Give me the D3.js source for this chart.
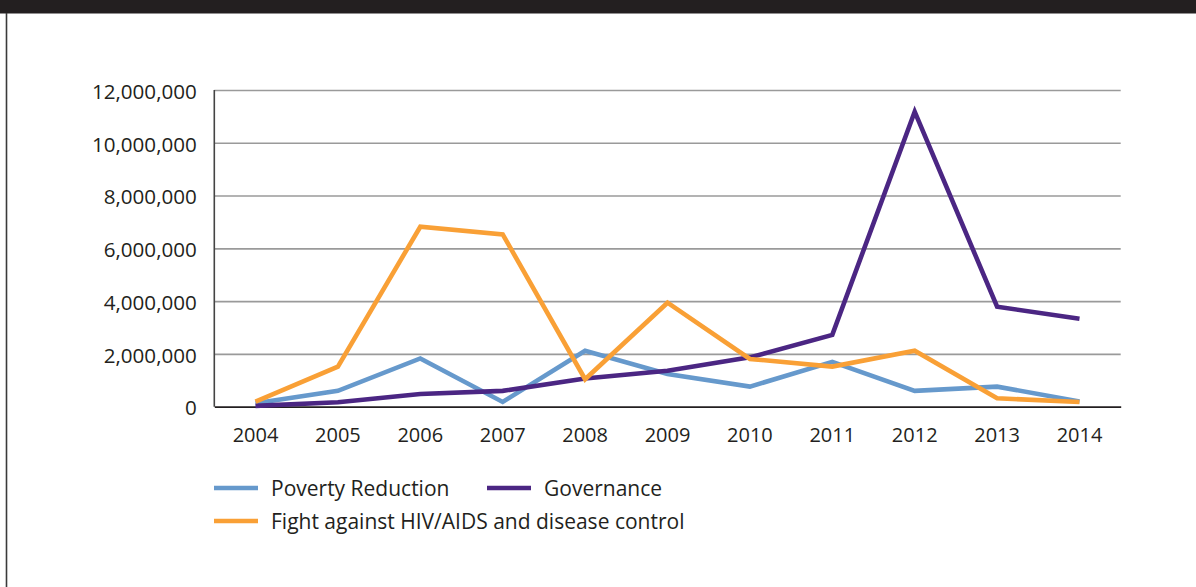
<!DOCTYPE html>
<html>
<head>
<meta charset="utf-8">
<script src="https://cdn.jsdelivr.net/npm/d3@7"></script>
<style>
  html, body { margin: 0; padding: 0; background: #fff; }
  svg { display: block; font-family: "Open Sans", "Noto Sans", sans-serif; }
</style>
</head>
<body>
<svg id="chart" width="1196" height="587"></svg>
<script>
const years = ["2004","2005","2006","2007","2008","2009","2010","2011","2012","2013","2014"];
const povertyReduction = [130000, 600000, 1830000, 180000, 2120000, 1240000, 760000, 1700000, 600000, 760000, 200000];
const governance = [30000, 170000, 480000, 600000, 1070000, 1360000, 1870000, 2720000, 11180000, 3790000, 3330000];
const hivAids = [190000, 1520000, 6820000, 6530000, 1040000, 3940000, 1810000, 1520000, 2120000, 320000, 180000];
const yTicks = [0, 2000000, 4000000, 6000000, 8000000, 10000000, 12000000];

const seriesNames = ["Poverty Reduction", "Governance", "Fight against HIV/AIDS and disease control"];
const seriesColors = ["#6699cc", "#4b2683", "#f9a036"];
const seriesValues = [povertyReduction, governance, hivAids];

const svg = d3.select("#chart");
const W = 1196, H = 587;

// frame: top dark bar and left border
svg.append("rect").attr("x", 0).attr("y", 0).attr("width", W).attr("height", 13.5).attr("fill", "#231f20");
svg.append("line").attr("x1", 6.5).attr("x2", 6.5).attr("y1", 13).attr("y2", H)
  .attr("stroke", "#3a3a3a").attr("stroke-width", 1.6);

const pLeft = 214.3, pRight = 1120.7, pTop = 90, pBottom = 406.7;

const x = d3.scaleBand().domain(years).range([pLeft, pRight]).padding(0);
const y = d3.scaleLinear().domain([0, 12000000]).range([pBottom, pTop]);
const fmt = d3.format(",");

// gridlines
const yAxis = d3.axisLeft(y).tickValues(yTicks).tickFormat(d => fmt(d)).tickSize(-(pRight - pLeft)).tickPadding(17.5);
const gy = svg.append("g").attr("transform", `translate(${pLeft},0)`).call(yAxis);
gy.select(".domain").remove();
gy.selectAll(".tick line").attr("stroke", "#9a9a9a").attr("stroke-width", 1.6);
gy.selectAll(".tick text").attr("font-size", 20.6).attr("fill", "#231f20").attr("dy", "0.4em")
  .attr("font-family", '"Open Sans", sans-serif');
gy.selectAll(".tick").filter(d => d === 0).select("line").remove();

// vertical axis line
svg.append("line").attr("x1", pLeft).attr("x2", pLeft).attr("y1", pTop).attr("y2", pBottom)
  .attr("stroke", "#444").attr("stroke-width", 1.6);

// x axis
const xAxis = d3.axisBottom(x).tickSize(0).tickPadding(0);
const gx = svg.append("g").attr("transform", `translate(0,${pBottom})`).call(xAxis);
gx.select(".domain").attr("stroke", "#231f20").attr("stroke-width", 1.8);
gx.selectAll(".tick text").attr("font-size", 20).attr("fill", "#231f20")
  .attr("y", 35).attr("dy", 0).attr("font-family", '"Open Sans", sans-serif');

// lines
const line = d3.line().x((d, i) => x(years[i]) + x.bandwidth() / 2).y(d => y(d));
seriesValues.forEach((vals, k) => {
  svg.append("path").datum(vals).attr("d", line)
    .attr("fill", "none").attr("stroke", seriesColors[k]).attr("stroke-width", 4.6)
    .attr("stroke-linejoin", "miter").attr("stroke-linecap", "butt");
});

// legend
const legendItems = [
  { name: seriesNames[0], color: seriesColors[0], lx: 214, ly: 488 },
  { name: seriesNames[1], color: seriesColors[1], lx: 487, ly: 488 },
  { name: seriesNames[2], color: seriesColors[2], lx: 214, ly: 521 }
];
const lg = svg.append("g");
legendItems.forEach(it => {
  lg.append("line").attr("x1", it.lx).attr("x2", it.lx + 44).attr("y1", it.ly).attr("y2", it.ly)
    .attr("stroke", it.color).attr("stroke-width", 4.4);
  lg.append("text").attr("x", it.lx + 57).attr("y", it.ly + 7.5).attr("font-size", 21)
    .attr("fill", "#231f20").text(it.name);
});
</script>
</body>
</html>
